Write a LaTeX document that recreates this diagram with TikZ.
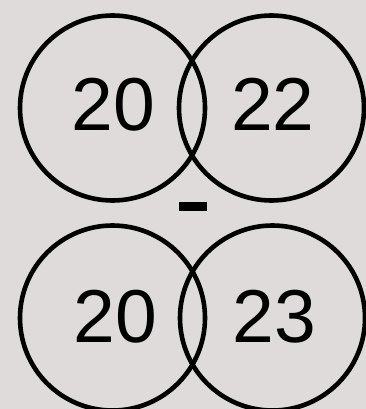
\documentclass[tikz,border=0pt]{standalone}
\usepackage{fontspec}
\setmainfont{Liberation Sans}
\definecolor{bg}{RGB}{224,219,219}
\begin{document}
\begin{tikzpicture}[x=1pt,y=-1pt,
  ring/.style={circle,draw=black,line width=4.6pt,minimum size=185pt,inner sep=0pt},
  num/.style={inner sep=0pt,font=\fontsize{75}{75}\selectfont},
  bar/.style={rectangle,fill=black,minimum width=28pt,minimum height=9pt,inner sep=0pt}]
\useasboundingbox (0,0) rectangle (366,409);
\clip (0,0) rectangle (366,409);
\fill[bg] (0,0) rectangle (366,409);
\node[ring] (a) at (112.5,108) {};
\node[ring] (b) at (271.5,108) {};
\node[ring] (c) at (112.5,318) {};
\node[ring] (d) at (272.5,318) {};
\node[num] (ta) at (113.5,104.5) {20};
\node[num] (tb) at (273,104.5) {22};
\node[num] (tc) at (115.5,316.5) {20};
\node[num] (td) at (274.5,316.5) {23};
\node[bar] (m) at (193,206.5) {};
\end{tikzpicture}
\end{document}
